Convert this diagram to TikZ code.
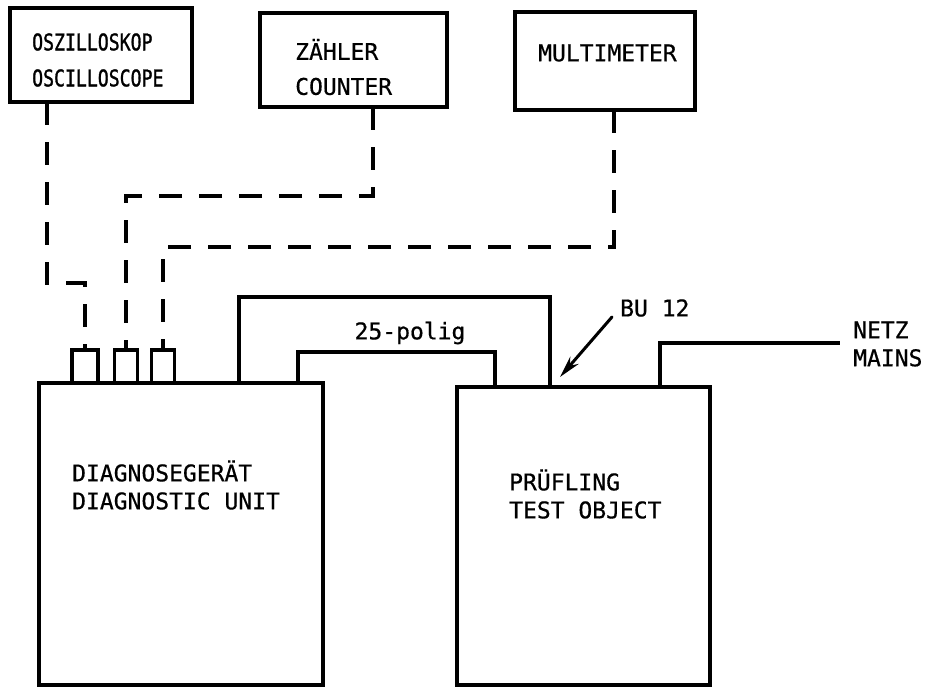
\documentclass[tikz,border=0pt]{standalone}
\usepackage{fontspec}
\usetikzlibrary{arrows.meta}
\newfontfamily\lab[FakeBold=0.6]{DejaVu Sans Mono}
\newfontfamily\labc[FakeStretch=0.79,FakeBold=1.2]{DejaVu Sans Mono}
\tikzset{
  box/.style={draw, line width=3.3pt, inner sep=0pt, outer sep=0pt},
  lbl/.style={font=\lab\fontsize{23}{28}\selectfont, align=left, inner sep=0pt, anchor=west},
  cable/.style={line width=3.2pt, line join=miter},
  dcable/.style={line width=3.4pt, dash pattern=on 23pt off 17pt},
}
\begin{document}
\begin{tikzpicture}[x=1pt,y=-1pt]
\useasboundingbox (0,0) rectangle (935,688);
% top instruments
\node[box, minimum width=182pt, minimum height=94pt] (osc) at (101,55) {};
\node[box, minimum width=187pt, minimum height=94pt] (cnt) at (353.5,60) {};
\node[box, minimum width=180pt, minimum height=98pt] (mm) at (605,61) {};
% main units
\node[box, minimum width=284pt, minimum height=302pt] (diag) at (181,534) {};
\node[box, minimum width=253pt, minimum height=298pt] (test) at (583.5,536) {};
% connectors
\node[box, minimum width=26pt, minimum height=33pt, anchor=south] (c1) at (85,383) {};
\node[box, minimum width=23pt, minimum height=33pt, anchor=south] (c2) at (126,383) {};
\node[box, minimum width=23pt, minimum height=33pt, anchor=south] (c3) at (163,383) {};
% labels
\node[lbl, font=\labc\fontsize{23}{36}\selectfont] (toscl) at (32,60) {OSZILLOSKOP\\OSCILLOSCOPE};
\node[lbl, font=\lab\fontsize{23}{35}\selectfont] (tcnt) at (295,67) {ZÄHLER\\COUNTER};
\node[lbl] (tmm) at (538,53) {MULTIMETER};
\node[lbl] (tdiag) at (72,485) {DIAGNOSEGERÄT\\DIAGNOSTIC UNIT};
\node[lbl] (ttest) at (509,494) {PRÜFLING\\TEST OBJECT};
\node[lbl, anchor=center] (tpol) at (410,333) {25-polig};
\node[lbl] (tbu) at (620,308) {BU 12};
\node[lbl] (tnetz) at (853,344) {NETZ\\MAINS};
% dashed measurement leads
\coordinate (d1) at (47,283);
\coordinate (d2) at (373,196);
\coordinate (d3) at (614,247);
\draw[dcable] (osc.south -| d1) -- (d1) -| (c1.north);
\draw[dcable] (cnt.south -| d2) -- (d2) -| (c2.north);
\draw[dcable] (mm.south -| d3) -- (d3) -| (c3.north);
% solid cables
\coordinate (k1) at (239,297);
\coordinate (k2) at (550,297);
\draw[cable] (k1 |- diag.north) -- (k1) -- (k2) -- (k2 |- test.north);
\coordinate (k3) at (298,352);
\coordinate (k4) at (495,352);
\draw[cable] (k3 |- diag.north) -- (k3) -- (k4) -- (k4 |- test.north);
\coordinate (k5) at (660,343);
\coordinate (k6) at (840,343);
\draw[cable] (k5 |- test.north) -- (k5) -- (k6);
% BU 12 pointer
\coordinate (a1) at (612,317);
\coordinate (a2) at (560,377);
\draw[line width=3pt, line cap=round, -{Stealth[length=22pt, width=11pt]}] (a1) -- (a2);
\end{tikzpicture}
\end{document}
